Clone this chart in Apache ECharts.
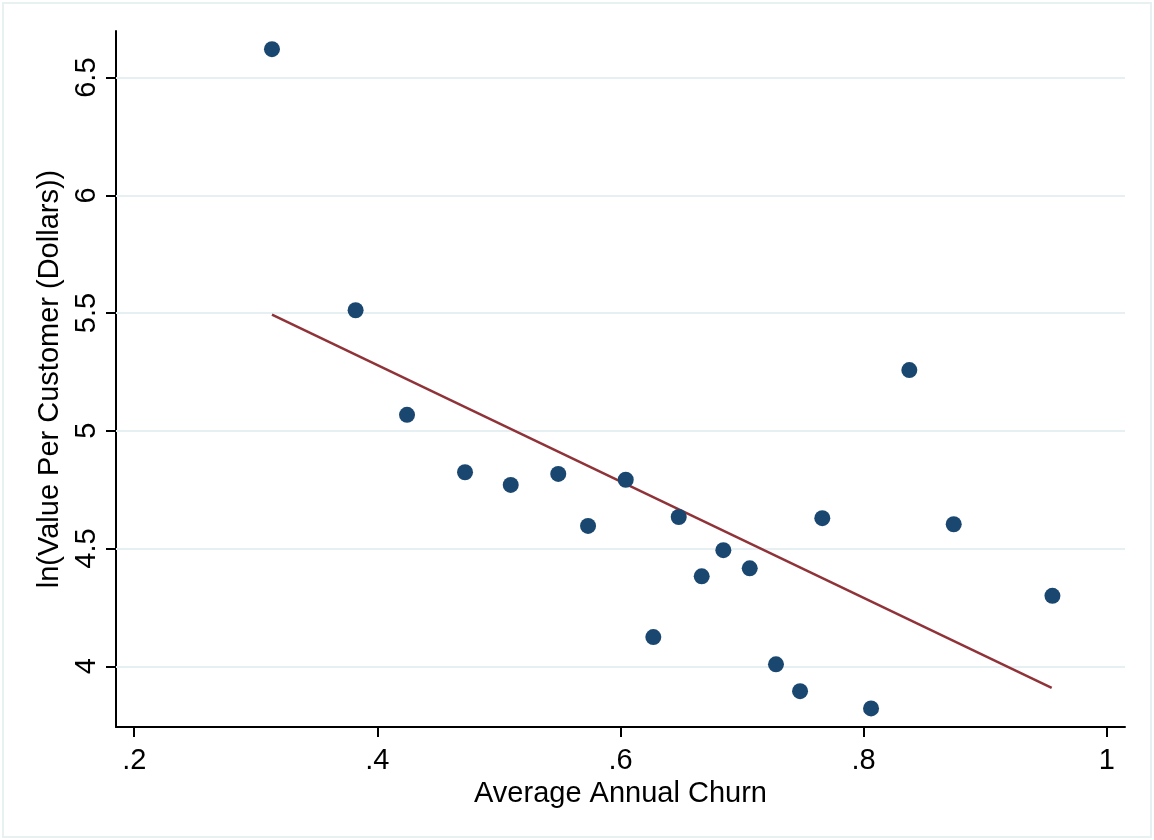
<!DOCTYPE html>
<html>
<head>
<meta charset="utf-8">
<script src="https://cdn.jsdelivr.net/npm/echarts@6/dist/echarts.min.js"></script>
<style>html,body{margin:0;padding:0;background:#fff}#c{width:1154px;height:840px}</style>
</head>
<body>
<div id="c"></div>
<script>
const churn = [0.3133,0.3821,0.4244,0.4721,0.5097,0.5488,0.5733,0.6043,0.6270,0.6479,0.6668,0.6846,0.7063,0.7279,0.7477,0.7660,0.8061,0.8376,0.8741,0.9553];
const lnValue = [6.621,5.512,5.068,4.824,4.770,4.817,4.596,4.792,4.124,4.634,4.382,4.493,4.416,4.008,3.894,4.629,3.821,5.258,4.603,4.299];
const fitX = [0.3133,0.9547];
const fitY = [5.493,3.908];
const xTicks = [0.2,0.4,0.6,0.8,1.0];
const yTicks = [4,4.5,5,5.5,6,6.5];

const FONT = 'Liberation Sans, Arial, sans-serif';
const chart = echarts.init(document.getElementById('c'), null, {renderer:'canvas'});
const fmt = v => {
  let s = String(Math.round(v*10)/10);
  if (s.startsWith('0.')) s = s.slice(1);
  return s;
};
chart.setOption({
  animation:false,
  backgroundColor:'#ffffff',
  graphic:[{type:'rect', shape:{x:3,y:3,width:1148,height:834}, style:{fill:'none', stroke:'#e8f0f2', lineWidth:2}, z:-1}],
  grid:{left:116, right:29, top:31, bottom:113},
  xAxis:{
    type:'value', min:0.185, max:1.015,
    name:'Average Annual Churn', nameLocation:'middle', nameGap:44,
    nameTextStyle:{fontFamily:FONT, fontSize:29, color:'#000'},
    axisLine:{show:true, lineStyle:{color:'#000', width:2}},
    axisTick:{show:true, length:10, lineStyle:{color:'#000', width:2}, customValues:xTicks},
    axisLabel:{fontFamily:FONT, fontSize:29, color:'#000', margin:19, customValues:xTicks, formatter:fmt},
    splitLine:{show:false}
  },
  yAxis:{
    type:'value', min:3.742, max:6.698,
    name:'ln(Value Per Customer (Dollars))', nameLocation:'middle', nameGap:47,
    nameTextStyle:{fontFamily:FONT, fontSize:29, color:'#000'},
    axisLine:{show:true, lineStyle:{color:'#000', width:2}},
    axisTick:{show:true, length:10, lineStyle:{color:'#000', width:2}, customValues:yTicks},
    axisLabel:{fontFamily:FONT, fontSize:29, color:'#000', margin:15, rotate:90, customValues:yTicks, formatter:fmt},
    splitLine:{show:false}
  },
  series:[
    {
      type:'line', data:[], z:1, silent:true,
      markLine:{
        silent:true, symbol:['none','none'], label:{show:false}, z:1,
        lineStyle:{color:'#e6eff1', width:2, type:'solid'},
        data: yTicks.map(v => ({yAxis:v}))
      }
    },
    {
      type:'line', data: fitX.map((x,i)=>[x, fitY[i]]), symbol:'none', z:2,
      lineStyle:{color:'#8f3339', width:2.5}
    },
    {
      type:'scatter', data: churn.map((x,i)=>[x, lnValue[i]]), symbolSize:16, z:3,
      itemStyle:{color:'#1a476f', opacity:1}
    }
  ]
});
</script>
</body>
</html>
